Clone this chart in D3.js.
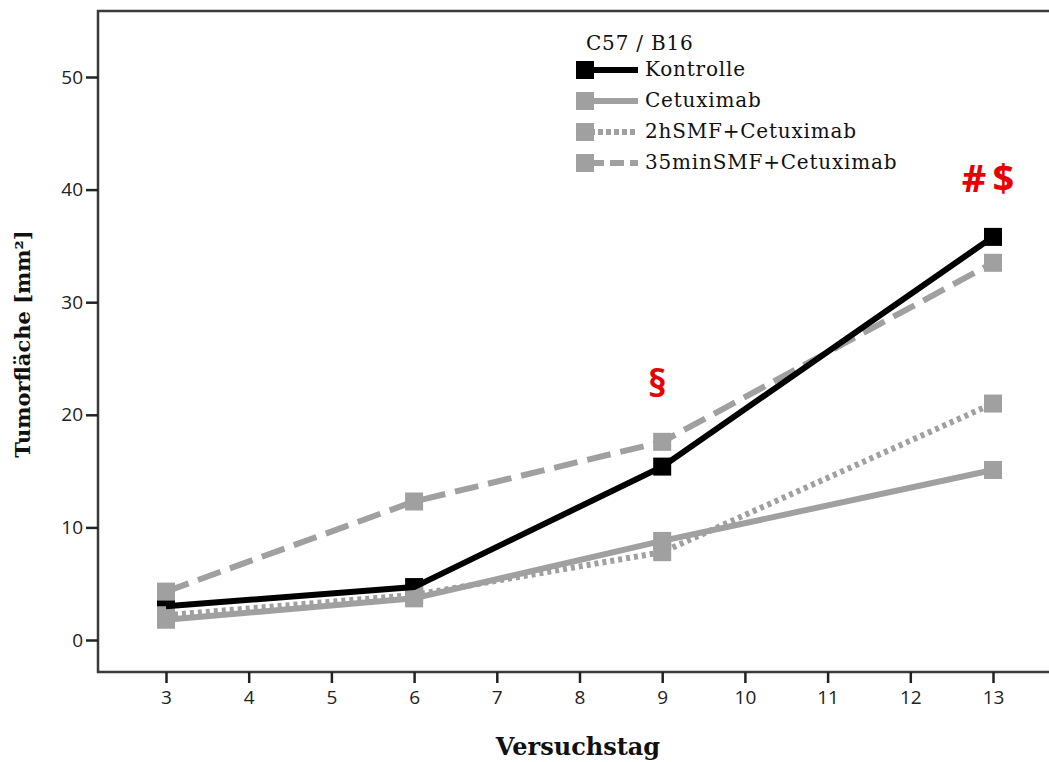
<!DOCTYPE html>
<html>
<head>
<meta charset="utf-8">
<script src="https://cdn.jsdelivr.net/npm/d3@7"></script>
<style>
  body { margin: 0; background: #fff; }
  .tick text { font-family: "Open Sans", "DejaVu Sans", sans-serif; font-size: 19px; fill: #222; }
  .tick line { stroke: #222; stroke-width: 2.5px; }
  .legend text { font-family: "DejaVu Serif", "Liberation Serif", serif; font-size: 20px; letter-spacing: 0.8px; fill: #111; }
</style>
</head>
<body>
<svg id="chart" width="1049" height="762"></svg>
<script>
// data
var days = [3, 6, 9, 13];
var seriesNames = ["Kontrolle", "Cetuximab", "2hSMF+Cetuximab", "35minSMF+Cetuximab"];
var kontrolle = [3.0, 4.7, 15.4, 35.8];
var cetuximab = [1.8, 3.7, 8.8, 15.1];
var smf2h = [2.2, 4.0, 7.8, 21.0];
var smf35 = [4.3, 12.3, 17.6, 33.5];
var xTicks = [3, 4, 5, 6, 7, 8, 9, 10, 11, 12, 13];
var yTicks = [0, 10, 20, 30, 40, 50];
var notes = [{day: 9, value: 21.6, text: "§"}, {day: 13, value: 39.8, text: "#$"}];

var svg = d3.select("#chart");

var x = d3.scaleLinear().domain([3, 13]).range([166, 993]);
var y = d3.scaleLinear().domain([0, 50]).range([640, 77]);

var frameL = 98, frameR = 1049, frameT = 11, frameB = 672;

// frame (top, left, bottom)
svg.append("path")
    .attr("d", "M" + frameR + "," + frameT + "H" + frameL + "V" + frameB + "H" + frameR)
    .attr("fill", "none")
    .attr("stroke", "#3a3a3a")
    .attr("stroke-width", 2.5);

var xAxis = svg.append("g")
    .attr("transform", "translate(0," + frameB + ")")
    .call(d3.axisBottom(x).tickValues(xTicks).tickSize(11).tickPadding(8).tickFormat(d3.format("d")));
xAxis.select(".domain").remove();

var yAxis = svg.append("g")
    .attr("transform", "translate(" + frameL + ",0)")
    .call(d3.axisLeft(y).tickValues(yTicks).tickSize(12).tickPadding(3));
yAxis.select(".domain").remove();

// axis titles
svg.append("text")
    .attr("x", 578)
    .attr("y", 755)
    .attr("text-anchor", "middle")
    .style("font-family", "'DejaVu Serif', 'Liberation Serif', serif")
    .style("font-weight", "bold")
    .style("font-size", "24px")
    .style("fill", "#111")
    .text("Versuchstag");

svg.append("text")
    .attr("transform", "translate(30,344) rotate(-90)")
    .attr("text-anchor", "middle")
    .style("font-family", "'DejaVu Serif', 'Liberation Serif', serif")
    .style("font-weight", "bold")
    .style("font-size", "21px")
    .style("fill", "#111")
    .text("Tumorfläche [mm²]");

var styles = [
  {color: "#000", dash: null},
  {color: "#a0a0a0", dash: null},
  {color: "#a0a0a0", dash: "4,4"},
  {color: "#a0a0a0", dash: "24,10"}
];
var allValues = [kontrolle, cetuximab, smf2h, smf35];

var line = d3.line()
    .x(function(d, i) { return x(days[i]); })
    .y(function(d) { return y(d); });

// markers: control first, gray ones over it
[0, 3, 2, 1].forEach(function(k) {
  svg.append("g").selectAll("rect")
      .data(allValues[k])
      .enter().append("rect")
      .attr("x", function(d, i) { return x(days[i]) - 9; })
      .attr("y", function(d) { return y(d) - 9; })
      .attr("width", 18)
      .attr("height", 18)
      .attr("fill", styles[k].color);
});

// lines: gray ones, control on top
[3, 2, 1, 0].forEach(function(k) {
  svg.append("path")
      .datum(allValues[k])
      .attr("d", line)
      .attr("fill", "none")
      .attr("stroke", styles[k].color)
      .attr("stroke-width", 6)
      .attr("stroke-dasharray", styles[k].dash);
});

// annotations
svg.selectAll(".note")
    .data(notes)
    .enter().append("text")
    .attr("class", "note")
    .attr("x", function(d) { return x(d.day) - 2; })
    .attr("y", function(d) { return y(d.value); })
    .attr("text-anchor", "middle")
    .attr("letter-spacing", "6")
    .style("font-family", "'Open Sans', 'DejaVu Sans', sans-serif")
    .style("font-weight", "bold")
    .style("font-size", "38px")
    .style("fill", "#e80000")
    .text(function(d) { return d.text; });

// legend
var legend = svg.append("g").attr("class", "legend").attr("transform", "translate(576,0)");
legend.append("text").attr("x", 10).attr("y", 50).text("C57 / B16");
seriesNames.forEach(function(name, k) {
  var yy = 70 + k * 31;
  legend.append("line")
      .attr("x1", 14).attr("x2", 62)
      .attr("y1", yy).attr("y2", yy)
      .attr("stroke", styles[k].color)
      .attr("stroke-width", 6)
      .attr("stroke-dasharray", k === 2 ? "5,3" : (k === 3 ? "14,6" : null));
  legend.append("rect")
      .attr("x", 0).attr("y", yy - 9)
      .attr("width", 18).attr("height", 18)
      .attr("fill", styles[k].color);
  legend.append("text")
      .attr("x", 69).attr("y", yy + 6)
      .text(name);
});
</script>
</body>
</html>
